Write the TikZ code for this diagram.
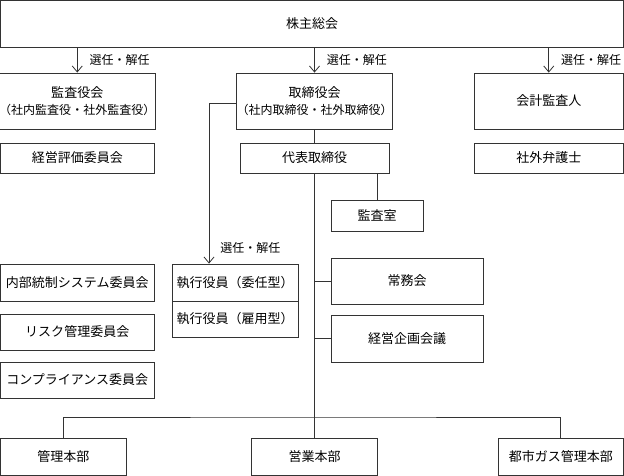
\documentclass[tikz,border=0pt]{standalone}
\usepackage{fontspec}
\setmainfont{Noto Sans CJK JP}
\usetikzlibrary{arrows.meta}

\begin{document}
\begin{tikzpicture}[x=1bp,y=-1bp,
  box/.style={draw=black!80,line width=0.8bp,inner sep=0pt,align=center,
    font=\fontsize{13bp}{17bp}\selectfont},
  link/.style={draw=black!80,line width=0.8bp},
  appoint/.style={link,-{Straight Barb[length=6bp,width=10bp]}},
  elect/.style={anchor=west,inner sep=0pt,font=\fontsize{12bp}{14bp}\selectfont}]
\useasboundingbox (0,0) rectangle (624,476);
% top
\node[box,minimum width=623bp,minimum height=46.5bp] (soukai) at (312,23.75) {株主総会};
\node[box,minimum width=153.5bp,minimum height=56bp] (kansayaku) at (77.25,101)
  {監査役会\\{\fontsize{12bp}{17bp}\selectfont （社内監査役・社外監査役）}};
\node[box,minimum width=149bp,minimum height=56bp] (torishimari) at (314.5,101)
  {取締役会\\{\fontsize{12bp}{17bp}\selectfont （社内取締役・社外取締役）}};
\node[box,minimum width=149.5bp,minimum height=56bp] (kaikei) at (548.75,101) {会計監査人};
\node[box,minimum width=153.5bp,minimum height=30bp] (hyoka) at (77.25,158) {経営評価委員会};
\node[box,minimum width=149bp,minimum height=30bp] (daihyo) at (314.5,158) {代表取締役};
\node[box,minimum width=149.5bp,minimum height=30bp] (bengoshi) at (548.75,158) {社外弁護士};
% middle
\node[box,minimum width=92bp,minimum height=31bp] (kansashitsu) at (377,215.5) {監査室};
\node[box,minimum width=152bp,minimum height=46bp] (jomu) at (407,281) {常務会};
\node[box,minimum width=152bp,minimum height=47bp] (kikaku) at (407,338.5) {経営企画会議};
\node[box,minimum width=126bp,minimum height=37bp] (shikkoA) at (235,282.5) {執行役員（委任型）};
\node[box,minimum width=126bp,minimum height=36bp] (shikkoB) at (235,319) {執行役員（雇用型）};
\node[box,minimum width=153.5bp,minimum height=37bp] (naibu) at (77.25,282.5) {内部統制システム委員会};
\node[box,minimum width=153.5bp,minimum height=36bp] (risk) at (77.25,332) {リスク管理委員会};
\node[box,minimum width=153.5bp,minimum height=36bp] (compla) at (77.25,380) {コンプライアンス委員会};
% bottom
\node[box,minimum width=125.5bp,minimum height=37.5bp] (kanri) at (63.25,456.75) {管理本部};
\node[box,minimum width=126bp,minimum height=37.5bp] (eigyo) at (314.5,456.75) {営業本部};
\node[box,minimum width=125.5bp,minimum height=37.5bp] (toshigas) at (560.75,456.75) {都市ガス管理本部};
\coordinate (bus) at (314.5,417);
% connectors
\draw[appoint] (soukai.south -| kansayaku.north) -- (kansayaku.north)
  node[elect,midway,xshift=12bp] {選任・解任};
\draw[appoint] (soukai.south -| torishimari.north) -- (torishimari.north)
  node[elect,midway,xshift=12bp] {選任・解任};
\draw[appoint] (soukai.south -| kaikei.north) -- (kaikei.north)
  node[elect,midway,xshift=12bp] {選任・解任};
\draw[appoint] ([yshift=-2bp]torishimari.west) -| ([xshift=-26bp]shikkoA.north)
  node[elect,pos=0.95,xshift=11bp] {選任・解任};
\draw[link] (torishimari.south) -- (daihyo.north);
\draw[link] (daihyo.south) -- (eigyo.north);
\draw[link] (kansashitsu.north) -- (kansashitsu.north |- daihyo.south);
\draw[link] (jomu.west) -- (jomu.west -| daihyo.south);
\draw[link] (kikaku.west) -- (kikaku.west -| daihyo.south);
\draw[link] (kanri.north) |- (bus) -| (toshigas.north);
\end{tikzpicture}
\end{document}
